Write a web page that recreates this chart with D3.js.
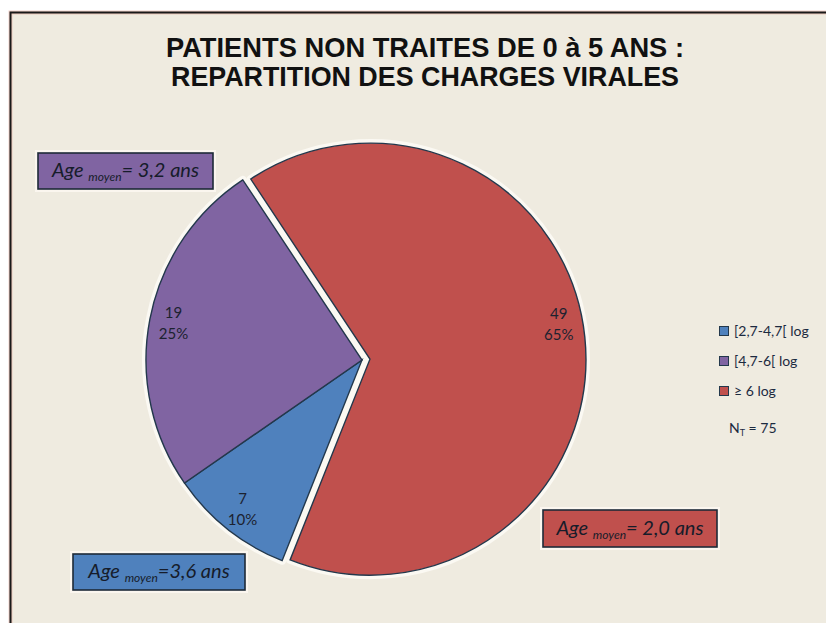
<!DOCTYPE html>
<html>
<head>
<meta charset="utf-8">
<script src="https://cdn.jsdelivr.net/npm/d3@7"></script>
<style>
  html, body { margin: 0; padding: 0; background: #ffffff; }
  svg { display: block; }
</style>
</head>
<body>
<svg id="chart" width="826" height="623"></svg>
<script>
// Viral-load classes, patient counts and shares
const categories = ["[2,7-4,7[ log", "[4,7-6[ log", "\u2265 6 log"];
const counts = [7, 19, 49];
const percents = ["10%", "25%", "65%"];
const meanAges = ["=3,6 ans", "= 3,2 ans", "= 2,0 ans"];
const colors = ["#4f81bd", "#8064a2", "#c0504d"];
const titleLines = ["PATIENTS NON TRAITES DE 0 \u00e0 5 ANS :", "REPARTITION DES CHARGES VIRALES"];
const totalLabel = "75";

const svg = d3.select("#chart");
const W = 826, H = 623;

// Frame and background
svg.append("rect").attr("x", 10).attr("y", 12).attr("width", W - 10).attr("height", H - 12)
  .attr("fill", "#efebe0");
svg.append("path").attr("d", `M10.5,${H} L10.5,12.5 L${W},12.5`)
  .attr("fill", "none").attr("stroke", "#e8a898").attr("stroke-width", 4).attr("opacity", 0.5);
svg.append("path").attr("d", `M10.5,${H} L10.5,12.5 L${W},12.5`)
  .attr("fill", "none").attr("stroke", "#1a1a1a").attr("stroke-width", 2);

// Title (condensed bold)
const title = svg.append("g").attr("font-family", "'Liberation Sans', Arial, sans-serif")
  .attr("font-weight", "bold").attr("fill", "#111111").attr("text-anchor", "middle");
const titleWidths = [518, 508];
titleLines.forEach((t, i) => {
  title.append("text").attr("x", 425).attr("y", 57 + i * 29)
    .attr("font-size", 28)
    .attr("textLength", titleWidths[i]).attr("lengthAdjust", "spacingAndGlyphs")
    .text(t);
});

// Pie
const cx = 362, cy = 360, R = 216;
const startA = 201.7 * Math.PI / 180;
const pie = d3.pie().sort(null).value(d => d).startAngle(startA).endAngle(startA + 2 * Math.PI);
const arcs = pie(counts);
const arc = d3.arc().innerRadius(0).outerRadius(R);
const explode = [0, 0, 8];
const offset = (d, i) => {
  const m = (d.startAngle + d.endAngle) / 2;
  return [explode[i] * Math.sin(m), -explode[i] * Math.cos(m)];
};

const pieG = svg.append("g").attr("transform", `translate(${cx},${cy})`);
// light halo under each slice
pieG.selectAll("path.halo").data(arcs).join("path")
  .attr("class", "halo")
  .attr("transform", (d, i) => `translate(${offset(d, i)})`)
  .attr("d", arc)
  .attr("fill", "none").attr("stroke", "#fbf9f3").attr("stroke-width", 8)
  .attr("stroke-linejoin", "round");
pieG.selectAll("path.slice").data(arcs).join("path")
  .attr("class", "slice")
  .attr("transform", (d, i) => `translate(${offset(d, i)})`)
  .attr("d", arc)
  .attr("fill", (d, i) => colors[i])
  .attr("stroke", "#23384c").attr("stroke-width", 1.4)
  .attr("stroke-linejoin", "miter");

// Data labels (count and share), placed near the outer rim
const labelR = 192;
const labelTurn = [0, 0, -4.5 * Math.PI / 180];
const lab = pieG.selectAll("g.lab").data(arcs).join("g")
  .attr("class", "lab")
  .attr("transform", (d, i) => {
    const a = (d.startAngle + d.endAngle) / 2 + labelTurn[i];
    const o = offset(d, i);
    return `translate(${labelR * Math.sin(a) + o[0]},${-labelR * Math.cos(a) + o[1]})`;
  })
  .attr("font-family", "Lato, 'Noto Sans', sans-serif")
  .attr("font-size", 15).attr("fill", "#1c2230").attr("text-anchor", "middle");
lab.append("text").attr("y", -6).text((d, i) => counts[i]);
lab.append("text").attr("y", 15).text((d, i) => percents[i]);

// Mean-age boxes
const boxes = [
  { x: 73, y: 554, w: 172, h: 36 },
  { x: 38, y: 153, w: 175, h: 36 },
  { x: 543, y: 510, w: 174, h: 37 }
];
const boxG = svg.append("g");
boxes.forEach((b, i) => {
  boxG.append("rect").attr("x", b.x).attr("y", b.y).attr("width", b.w).attr("height", b.h)
    .attr("fill", "none").attr("stroke", "#fbf6ef").attr("stroke-width", 6);
  boxG.append("rect").attr("x", b.x).attr("y", b.y).attr("width", b.w).attr("height", b.h)
    .attr("fill", colors[i]).attr("stroke", "#1d2a38").attr("stroke-width", 1.6);
  const t = boxG.append("text")
    .attr("x", b.x + b.w / 2).attr("y", b.y + b.h / 2 + 6)
    .attr("text-anchor", "middle")
    .attr("font-family", "Lato, 'Noto Sans', sans-serif")
    .attr("font-style", "italic").attr("fill", "#161c2a");
  t.append("tspan").attr("font-size", 20).text("Age ");
  t.append("tspan").attr("font-size", 12).attr("dy", 4).text("moyen");
  t.append("tspan").attr("font-size", 20).attr("dy", -4).text(meanAges[i]);
});

// Legend
const legend = svg.append("g").attr("font-family", "Lato, 'Noto Sans', sans-serif")
  .attr("font-size", 14).attr("fill", "#1c2a40");
categories.forEach((c, i) => {
  const y = 331 + i * 30;
  legend.append("rect").attr("x", 719.5).attr("y", y - 4.5).attr("width", 9).attr("height", 9)
    .attr("fill", colors[i]).attr("stroke", "#23384c").attr("stroke-width", 1);
  legend.append("text").attr("x", 734).attr("y", y + 5).text(c);
});
const nt = legend.append("text").attr("x", 729).attr("y", 433);
nt.append("tspan").text("N");
nt.append("tspan").attr("font-size", 9).attr("dy", 3).text("T");
nt.append("tspan").attr("dy", -3).text(" = " + totalLabel);
</script>
</body>
</html>
